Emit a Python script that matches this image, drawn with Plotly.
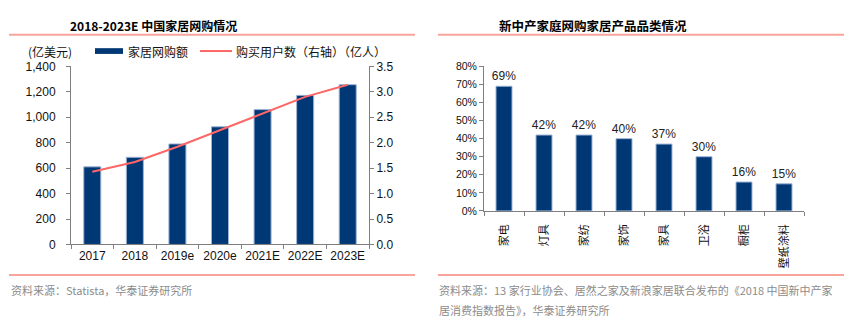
import plotly.graph_objects as go

# ---- data: online home-furnishing purchases in China ----
years = ["2017", "2018", "2019e", "2020e", "2021E", "2022E", "2023E"]
sales_usd_100m = [610, 685, 790, 925, 1060, 1172, 1256]
buyers_100m = [1.43, 1.62, 1.92, 2.25, 2.58, 2.90, 3.14]

# ---- data: categories bought online by new middle-class households ----
categories = ["家电", "灯具", "家纺", "家饰", "家具", "卫浴", "橱柜", "壁纸涂料"]
shares_pct = [69, 42, 42, 40, 37, 30, 16, 15]

W, H = 864, 329
NAVY = "#003775"
RED = "#FF6666"
RULE = "#F6A49C"
AXIS = "#7F7F7F"
LAT = "Liberation Sans, Arial, sans-serif"
CJK = "Noto Sans CJK SC, sans-serif"


def px(x):
    return x / W


def py(y):
    return 1 - y / H


fig = go.Figure()

# left panel: bars + user line on secondary axis
fig.add_trace(go.Bar(
    x=years, y=sales_usd_100m, width=0.4,
    marker=dict(color=NAVY, line=dict(color="#9DB4D6", width=1)),
    xaxis="x", yaxis="y", showlegend=False,
))
fig.add_trace(go.Scatter(
    x=years, y=buyers_100m, mode="lines",
    line=dict(color=RED, width=2),
    xaxis="x", yaxis="y2", showlegend=False,
))

# right panel: category shares with value labels
fig.add_trace(go.Bar(
    x=categories, y=shares_pct, width=0.4,
    marker=dict(color=NAVY, line=dict(color="#9DB4D6", width=1)),
    text=[f"{v}%" for v in shares_pct], textposition="outside",
    constraintext="none",
    textfont=dict(family=LAT, size=12, color="#222"),
    cliponaxis=False,
    xaxis="x2", yaxis="y3", showlegend=False,
))

tick_font = dict(family=LAT, size=12, color="#111")
axis_common = dict(showline=True, linecolor=AXIS, linewidth=1, showgrid=False,
                   zeroline=False, ticks="outside", tickcolor=AXIS, ticklen=4)

fig.update_layout(
    width=W, height=H, autosize=False,
    margin=dict(l=0, r=0, t=0, b=0),
    paper_bgcolor="white", plot_bgcolor="white",
    bargap=0.6,
    xaxis=dict(domain=[px(71), px(369)], type="category", tickson="boundaries",
               tickangle=0, tickfont=tick_font, anchor="y", **axis_common),
    yaxis=dict(domain=[py(248), py(62)], range=[0, 1400], dtick=200,
               tickformat=",", tickfont=tick_font, anchor="x",
               ticklabelstandoff=8, **axis_common),
    yaxis2=dict(domain=[py(248), py(62)], range=[0, 3.5], dtick=0.5,
                tickformat=".1f", tickfont=tick_font, overlaying="y",
                side="right", anchor="x", **axis_common),
    xaxis2=dict(domain=[px(484), px(804)], type="category", tickson="boundaries",
                tickangle=-90, tickfont=dict(family=CJK, size=11, color="#111"),
                ticklabelstandoff=8, anchor="y3", **axis_common),
    yaxis3=dict(domain=[py(213), py(62)], range=[0, 80], dtick=10,
                ticksuffix="%", tickfont=dict(family=LAT, size=10.5, color="#111"),
                anchor="x2", **axis_common),
)

shapes = []
# title underlines and footer rules
for x0, x1 in [(9, 415), (438, 844)]:
    for y in (29, 280):
        shapes.append(dict(type="line", xref="paper", yref="paper",
                           x0=px(x0), x1=px(x1), y0=py(y), y1=py(y),
                           line=dict(color=RULE, width=2)))
# legend swatches
shapes.append(dict(type="rect", xref="paper", yref="paper",
                   x0=px(95), x1=px(123), y0=py(49), y1=py(43),
                   fillcolor=NAVY, line=dict(width=0)))
shapes.append(dict(type="line", xref="paper", yref="paper",
                   x0=px(200), x1=px(232), y0=py(46), y1=py(46),
                   line=dict(color=RED, width=2)))
fig.update_layout(shapes=shapes)


def note(x, y, text, size=12, color="#111", family=CJK, bold=False, anchor="left"):
    if bold:
        text = f"<b>{text}</b>"
    fig.add_annotation(xref="paper", yref="paper", x=px(x), y=py(y), text=text,
                       showarrow=False, xanchor=anchor, yanchor="middle",
                       font=dict(family=family, size=size, color=color))


note(68, 19, "2018-2023E 中国家居网购情况", size=12, color="#000", bold=True)
note(497, 19, "新中产家庭网购家居产品品类情况", size=12.5, color="#000", bold=True)
note(26, 47, "(亿美元)", size=12)
note(126, 46, "家居网购额", size=12)
note(234, 46, "购买用户数（右轴）（亿人）", size=12)
note(9, 296, "资料来源：Statista，华泰证券研究所", size=11, color="#8C8C8C")
note(437, 296, "资料来源：13 家行业协会、居然之家及新浪家居联合发布的《2018 中国新中产家",
     size=11, color="#8C8C8C")
note(437, 316, "居消费指数报告》，华泰证券研究所", size=11, color="#8C8C8C")

fig.write_html("out.html")
